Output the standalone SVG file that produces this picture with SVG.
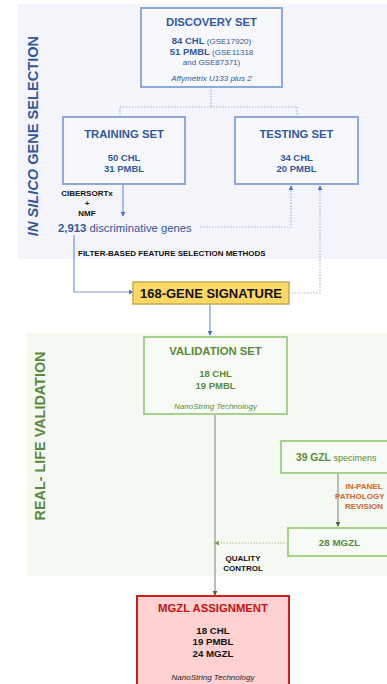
<svg xmlns="http://www.w3.org/2000/svg" width="387" height="684" viewBox="0 0 387 684">
<style>
text{font-family:"Liberation Sans",Arial,sans-serif}
.b{font-weight:bold}
.i{font-style:italic}
.blue{fill:#34589c}
.green{fill:#5a8a3a}
.bbox{fill:#f6f8fc;stroke:#8eaadb;stroke-width:2}
.gbox{fill:#f7fbf5;stroke:#a9d18e;stroke-width:2}
.dot{fill:none;stroke:#aab6cf;stroke-width:1.2;stroke-dasharray:1.5 1.5}
.sblue{fill:none;stroke:#7897d8;stroke-width:1.2}
.sgray{fill:none;stroke:#a8aaa6;stroke-width:1.5}
.gdot{fill:none;stroke:#a9c49a;stroke-width:1.2;stroke-dasharray:1.5 1.5}
.lab{font-size:8px;font-weight:bold;fill:#111}
.rev{font-size:8px;font-weight:bold;fill:#d0652a}
</style>
<defs>
<marker id="ab" viewBox="0 0 6 6" refX="5" refY="3" markerWidth="5" markerHeight="5" orient="auto" markerUnits="userSpaceOnUse"><path d="M0,0 L6,3 L0,6 Z" fill="#4a73cf"/></marker>
<marker id="ag" viewBox="0 0 6 6" refX="5" refY="3" markerWidth="5" markerHeight="5" orient="auto" markerUnits="userSpaceOnUse"><path d="M0,0 L6,3 L0,6 Z" fill="#3e6a2a"/></marker>
<marker id="agl" viewBox="0 0 6 6" refX="5" refY="3" markerWidth="5" markerHeight="5" orient="auto" markerUnits="userSpaceOnUse"><path d="M0,0 L6,3 L0,6 Z" fill="#7aa05e"/></marker>
</defs>

<rect x="18" y="4" width="369" height="255" fill="#f3f5fa"/>
<rect x="26" y="333" width="361" height="243" fill="#f4f9f1"/>

<text class="b blue" font-size="14.6" transform="translate(38,136) rotate(-90)" text-anchor="middle"><tspan font-style="italic">IN SILICO</tspan> GENE SELECTION</text>
<text class="b green" font-size="14.4" transform="translate(45,436) rotate(-90)" text-anchor="middle">REAL- LIFE VALIDATION</text>

<g id="connectors">
<path class="dot" d="M211,87 V107 M120,107 H297 M120,107 V117 M297,107 V117"/>
<path class="sblue" d="M123,184 V216" marker-end="url(#ab)"/>
<path class="dot" d="M200,227 H291 V186" marker-end="url(#ab)"/>
<path class="dot" d="M289,293 H320 V186" marker-end="url(#ab)"/>
<path class="sblue" d="M74,235 V292 H133" marker-end="url(#ab)"/>
<path class="sblue" d="M210,304 V335" marker-end="url(#ab)"/>
<path class="sgray" d="M215,414 V595" marker-end="url(#ag)"/>
<path class="sgray" d="M338,473 V526" marker-end="url(#ag)"/>
<path class="gdot" d="M288,543 H215" marker-end="url(#agl)"/>
</g>

<g id="discovery">
<rect class="bbox" x="141" y="8" width="141" height="79"/>
<text class="b blue" x="211.5" y="26" font-size="11.3" text-anchor="middle">DISCOVERY SET</text>
<text class="blue" x="211.5" y="44" font-size="8" text-anchor="middle"><tspan class="b" font-size="9.5">84 CHL</tspan> (GSE17920)</text>
<text class="blue" x="211.5" y="55" font-size="8" text-anchor="middle"><tspan class="b" font-size="9.5">51 PMBL</tspan> (GSE11318</text>
<text class="blue" x="211.5" y="65" font-size="8" text-anchor="middle">and GSE87371)</text>
<text class="i blue" x="211.5" y="81" font-size="8" text-anchor="middle">Affymetrix U133 plus 2</text>
</g>

<g id="training">
<rect class="bbox" x="63" y="117" width="122" height="67"/>
<text class="b blue" x="124" y="138" font-size="11.3" text-anchor="middle">TRAINING SET</text>
<text class="b blue" x="124" y="161" font-size="9.5" text-anchor="middle">50 CHL</text>
<text class="b blue" x="124" y="172" font-size="9.5" text-anchor="middle">31 PMBL</text>
</g>

<g id="testing">
<rect class="bbox" x="235" y="117" width="123" height="67"/>
<text class="b blue" x="296.5" y="138" font-size="11.3" text-anchor="middle">TESTING SET</text>
<text class="b blue" x="296.5" y="161" font-size="9.5" text-anchor="middle">34 CHL</text>
<text class="b blue" x="296.5" y="172" font-size="9.5" text-anchor="middle">20 PMBL</text>
</g>

<g id="method1">
<text class="lab" x="87" y="196" text-anchor="middle">CIBERSORTx</text>
<text class="lab" x="87" y="206" text-anchor="middle">+</text>
<text class="lab" x="87" y="216" text-anchor="middle">NMF</text>
</g>

<g id="genes">
<text class="blue" x="58" y="232" font-size="11.3"><tspan class="b">2,913</tspan> discriminative genes</text>
</g>

<g id="filter">
<text class="lab" x="78" y="256">FILTER-BASED FEATURE SELECTION METHODS</text>
</g>

<g id="signature">
<rect x="133" y="282" width="156" height="22" fill="#fdd865" stroke="#c2ad4e" stroke-width="1.5"/>
<text class="b" x="211" y="298" font-size="13" text-anchor="middle" fill="#111">168-GENE SIGNATURE</text>
</g>

<g id="validation">
<rect class="gbox" x="144" y="337" width="143" height="77"/>
<text class="b green" x="215.5" y="355" font-size="11.3" text-anchor="middle">VALIDATION SET</text>
<text class="b green" x="215.5" y="377" font-size="9.5" text-anchor="middle">18 CHL</text>
<text class="b green" x="215.5" y="389" font-size="9.5" text-anchor="middle">19 PMBL</text>
<text class="i green" x="215.5" y="409" font-size="8" text-anchor="middle">NanoString Technology</text>
</g>

<g id="gzl">
<rect class="gbox" x="281" y="441" width="110" height="32"/>
<text class="green" x="296" y="461" font-size="9"><tspan class="b" font-size="10.3">39 GZL</tspan> specimens</text>
</g>

<g id="revision">
<text class="rev" x="364" y="489" text-anchor="middle">IN-PANEL</text>
<text class="rev" x="384.5" y="499" font-size="7.2" text-anchor="end">PATHOLOGY</text>
<text class="rev" x="364" y="509" text-anchor="middle">REVISION</text>
</g>

<g id="mgzl28">
<rect class="gbox" x="288" y="528" width="103" height="28"/>
<text class="b green" x="339.5" y="546" font-size="9.8" text-anchor="middle">28 MGZL</text>
</g>

<g id="qc">
<text class="lab" x="243" y="561" text-anchor="middle">QUALITY</text>
<text class="lab" x="243" y="571" text-anchor="middle">CONTROL</text>
</g>

<g id="assignment">
<rect x="137" y="596" width="152" height="92" fill="#ffd1d1" stroke="#cc2020" stroke-width="2"/>
<text class="b" x="213" y="612" font-size="11.3" text-anchor="middle" fill="#c41414">MGZL ASSIGNMENT</text>
<text class="b" x="213" y="634" font-size="9.7" text-anchor="middle" fill="#111">18 CHL</text>
<text class="b" x="213" y="645" font-size="9.7" text-anchor="middle" fill="#111">19 PMBL</text>
<text class="b" x="213" y="657" font-size="9.7" text-anchor="middle" fill="#111">24 MGZL</text>
<text class="i" x="213" y="680" font-size="8" text-anchor="middle" fill="#222">NanoString Technology</text>
</g>
</svg>
